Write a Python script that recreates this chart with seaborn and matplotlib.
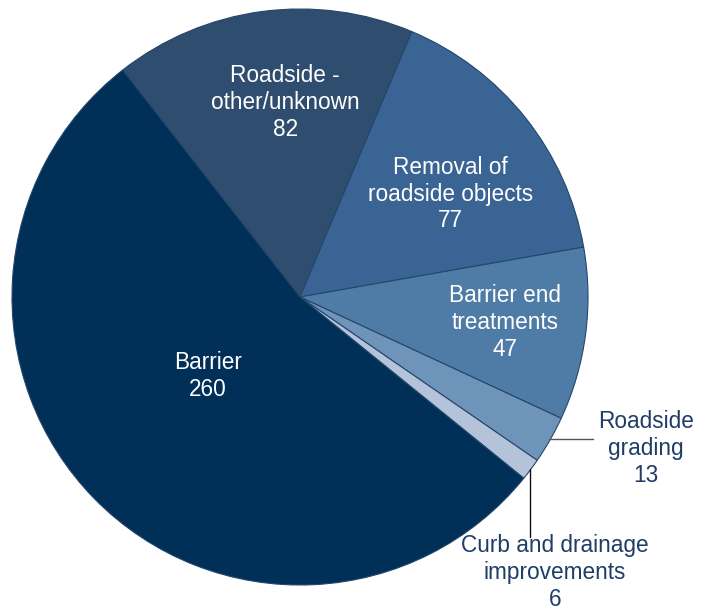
import matplotlib
matplotlib.use("Agg")
import matplotlib.pyplot as plt
import seaborn as sns
import numpy as np

sns.set_theme(style="white")
plt.rcParams['font.family'] = ['Liberation Sans', 'DejaVu Sans']

categories = ["Roadside -\nother/unknown", "Removal of\nroadside objects", "Barrier end\ntreatments",
              "Roadside\ngrading", "Curb and drainage\nimprovements", "Barrier"]
values = [82, 77, 47, 13, 6, 260]
colors = ["#2F4D6F", "#3A6494", "#4F7CA7", "#6E95B9", "#B5C3DA", "#003057"]

fig = plt.figure(figsize=(7.12, 6.10), dpi=100)
ax = fig.add_axes([0, 0, 1, 1])
wedges, _ = ax.pie(values, colors=colors, startangle=128, counterclock=False, radius=1.0,
                   wedgeprops=dict(edgecolor="#24466B", linewidth=0.8))
ax.set_aspect('auto')
R = 288.0
ax.set_xlim(-300 / R, (712 - 300) / R)
ax.set_ylim(-(610 - 297) / R, 297 / R)
ax.axis('off')

# label placement: (radius factor, angle nudge in degrees, inside?)
place = [(0.676, -3.2, True), (0.632, -4.1, True), (0.718, 0.4, True),
         (1.31, 6.1, False), (1.303, -10.4, False), (0.42, -3.9, True)]
outside_color = "#1F3D66"
for w, lab, v, (rf, dth, inside) in zip(wedges, categories, values, place):
    mid = (w.theta1 + w.theta2) / 2.0
    th = np.deg2rad(mid + dth)
    x, y = rf * np.cos(th), rf * np.sin(th)
    ax.text(x, y, f"{lab}\n{v}", ha='center', va='center', fontsize=16.3,
            color='white' if inside else outside_color, linespacing=1.22)
    if not inside:
        tm = np.deg2rad(mid)
        x0, y0 = 0.996 * np.cos(tm), 0.996 * np.sin(tm)
        if lab.startswith("Roadside"):
            x1, y1 = 1.017, y0
        else:
            x1, y1 = x0, -0.833
        ax.plot([x0, x1], [y0, y1], color="#555555" if lab.startswith("Roadside") else "#111111",
                lw=1.0)

fig.savefig("out.png", dpi=100)
